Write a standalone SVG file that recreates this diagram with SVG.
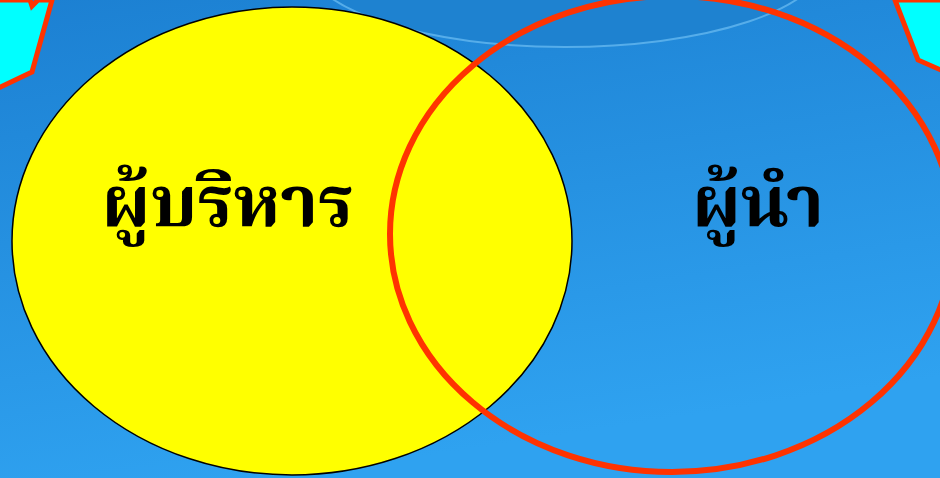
<svg xmlns="http://www.w3.org/2000/svg" width="940" height="478" viewBox="0 0 940 478">
<defs>
<linearGradient id="bg" x1="0" y1="0" x2="0.3" y2="1">
<stop offset="0" stop-color="#1c80d2"/>
<stop offset="1" stop-color="#2fa2f0"/>
</linearGradient>
<style>
.lbl{font-family:"Noto Serif Thai","Noto Sans Thai Looped","Loma","Garuda","Norasi",serif;font-weight:bold;font-size:72px;fill:#000;text-anchor:middle}
</style>
</defs>
<rect width="940" height="478" fill="url(#bg)"/>
<ellipse cx="565" cy="-40" rx="260" ry="87" fill="#1e82d0" stroke="#5cb2ec" stroke-width="2" opacity="0.9"/>
<g id="corner-left">
<polygon points="-10,0 30,0 32,6 38,0 52,0 32,72 -10,92" fill="#00ffff" stroke="#ff3300" stroke-width="5" stroke-linejoin="miter"/>
</g>
<g id="corner-right">
<polygon points="895,0 918,60 950,74 950,0" fill="#00ffff" stroke="#ff3300" stroke-width="5"/>
</g>
<g id="manager">
<ellipse cx="292" cy="241" rx="280" ry="234" fill="#ffff00" stroke="#000" stroke-width="1.5"/>
<text class="lbl" x="228" y="226">ผู้บริหาร</text>
</g>
<g id="leader">
<ellipse cx="672" cy="234" rx="282" ry="238" fill="none" stroke="#ff3300" stroke-width="6"/>
<text class="lbl" x="758" y="226">ผู้นำ</text>
</g>
</svg>
